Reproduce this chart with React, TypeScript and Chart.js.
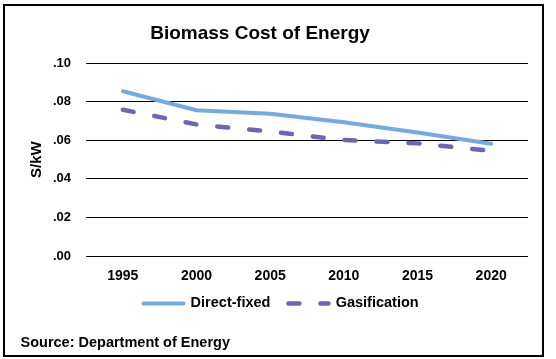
import React, { useEffect, useRef } from "react";
import { Chart, registerables } from "chart.js";

Chart.register(...registerables);

const years = ["1995", "2000", "2005", "2010", "2015", "2020"];
const directFixed = [0.0854, 0.0756, 0.0737, 0.0693, 0.064, 0.0582];
const gasification = [0.0758, 0.0682, 0.0645, 0.0601, 0.0584, 0.0545];
const yTickLabels = [".00", ".02", ".04", ".06", ".08", ".10"];
const chartTitle = "Biomass Cost of Energy";
const sourceText = "Source: Department of Energy";
const yAxisTitle = "S/kW";

const FONT = "'Liberation Sans', Arial, Helvetica, sans-serif";
const LEGEND_PAD = 18;

const textPlugin = {
  id: "extraText",
  afterLayout(chart: any) {
    // legend item spacing is wider than its vertical gap: lift the legend box
    const lg = chart.legend;
    if (lg) {
      lg.top -= LEGEND_PAD - 10;
      lg.bottom -= LEGEND_PAD - 10;
    }
  },
  afterDraw(chart: any) {
    const ctx = chart.ctx;
    ctx.save();
    ctx.fillStyle = "#000";
    ctx.textBaseline = "alphabetic";
    ctx.font = `bold 19px ${FONT}`;
    ctx.textAlign = "center";
    ctx.fillText(chartTitle, 255, 33);
    ctx.font = `bold 14.5px ${FONT}`;
    ctx.textAlign = "left";
    ctx.fillText(sourceText, 15.5, 340.5);
    ctx.restore();
  },
};

export default function App() {
  const ref = useRef<HTMLCanvasElement | null>(null);
  useEffect(() => {
    if (!ref.current) return;
    const chart = new Chart(ref.current, {
      type: "line",
      data: {
        labels: years,
        datasets: [
          {
            label: "Direct-fixed",
            data: directFixed,
            borderColor: "#72aae2",
            backgroundColor: "#72aae2",
            borderWidth: 4,
            borderCapStyle: "round",
            pointRadius: 0,
            tension: 0,
          },
          {
            label: "Gasification",
            data: gasification,
            borderColor: "#6a67b4",
            backgroundColor: "#6a67b4",
            borderWidth: 4.5,
            borderDash: [11, 21],
            borderCapStyle: "round",
            pointRadius: 0,
            tension: 0,
          },
        ],
      },
      options: {
        responsive: false,
        animation: false,
        layout: { padding: { top: 57, left: 29, right: 14, bottom: 34.3 - (LEGEND_PAD - 10) } },
        plugins: {
          title: { display: false },
          tooltip: { enabled: false },
          legend: {
            position: "bottom",
            labels: {
              usePointStyle: true,
              pointStyle: "line",
              pointStyleWidth: 40,
              padding: LEGEND_PAD,
              color: "#000",
              font: { family: FONT, size: 14.5, weight: "bold" },
              generateLabels: (c: any) =>
                c.data.datasets.map((ds: any, i: number) => ({
                  text: ds.label,
                  datasetIndex: i,
                  fillStyle: ds.borderColor,
                  strokeStyle: ds.borderColor,
                  fontColor: "#000",
                  lineWidth: ds.borderWidth,
                  lineDash: ds.borderDash || [],
                  lineDashOffset: 0,
                  lineCap: "round",
                  pointStyle: "line",
                  hidden: false,
                })),
            },
          },
        },
        scales: {
          x: {
            offset: true,
            grid: { display: false, drawTicks: false, offset: true },
            border: { display: false },
            ticks: {
              color: "#000",
              padding: 12,
              font: { family: FONT, size: 14, weight: "bold" },
            },
            afterFit: (scale: any) => {
              scale.height = 30;
            },
          },
          y: {
            min: 0,
            max: 0.1,
            grid: { color: "#000", lineWidth: 1, drawTicks: false },
            border: { display: false },
            ticks: {
              stepSize: 0.02,
              color: "#000",
              padding: 15,
              font: { family: FONT, size: 13, weight: "bold" },
              callback: (_v: any, i: number) => yTickLabels[i],
            },
            title: {
              display: true,
              text: yAxisTitle,
              color: "#000",
              padding: { top: -6, bottom: 0 },
              font: { family: FONT, size: 15, weight: "bold" },
            },
            afterFit: (scale: any) => {
              scale.width = 52;
            },
          },
        },
      },
      plugins: [textPlugin],
    } as any);
    return () => chart.destroy();
  }, []);
  return (
    <canvas
      ref={ref}
      width={537}
      height={349}
      style={{
        position: "absolute",
        left: 3,
        top: 4,
        width: 537,
        height: 349,
        boxSizing: "content-box",
        border: "2px solid #000",
        background: "#fff",
        display: "block",
      }}
    />
  );
}
